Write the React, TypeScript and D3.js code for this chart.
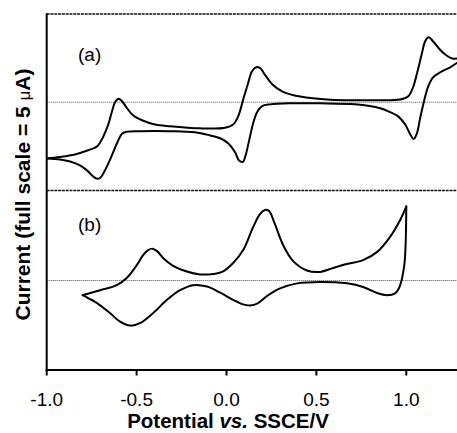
import React from "react";
import * as d3 from "d3";

// Panel (a): forward sweep (upper branch), E in V, i in µA
const aForwardE = [-1.0, -0.926, -0.843, -0.77, -0.72, -0.687, -0.659, -0.637, -0.62, -0.6, -0.581, -0.553, -0.52, -0.47, -0.397, -0.314, -0.147, -0.008, 0.037, 0.065, 0.092, 0.12, 0.142, 0.165, 0.187, 0.215, 0.254, 0.309, 0.41, 0.577, 0.799, 0.966, 1.011, 1.038, 1.061, 1.087, 1.105, 1.124, 1.15, 1.189, 1.228, 1.256, 1.289];
const aForwardI = [-1.59, -1.55, -1.48, -1.36, -1.25, -0.99, -0.65, -0.26, 0.0, 0.1, 0.03, -0.17, -0.37, -0.51, -0.63, -0.68, -0.74, -0.72, -0.63, -0.4, 0.06, 0.54, 0.88, 0.99, 0.97, 0.77, 0.51, 0.31, 0.16, 0.07, 0.06, 0.08, 0.17, 0.43, 0.85, 1.39, 1.73, 1.84, 1.72, 1.48, 1.31, 1.24, 1.24];
// Panel (a): reverse sweep (lower branch)
const aReverseE = [1.289, 1.244, 1.189, 1.15, 1.122, 1.1, 1.077, 1.059, 1.041, 1.022, 0.994, 0.955, 0.91, 0.855, 0.716, 0.521, 0.354, 0.243, 0.198, 0.17, 0.148, 0.126, 0.106, 0.091, 0.07, 0.048, 0.009, -0.035, -0.091, -0.175, -0.314, -0.481, -0.559, -0.581, -0.609, -0.642, -0.676, -0.698, -0.715, -0.737, -0.776, -0.815, -0.87, -0.926, -1.0];
const aReverseI = [1.14, 0.99, 0.85, 0.71, 0.45, 0.06, -0.45, -0.88, -1.04, -0.91, -0.63, -0.4, -0.28, -0.17, -0.06, -0.03, -0.03, -0.06, -0.11, -0.28, -0.6, -1.08, -1.51, -1.69, -1.65, -1.42, -1.16, -1.02, -0.94, -0.85, -0.82, -0.82, -0.84, -0.89, -1.16, -1.56, -1.93, -2.12, -2.17, -2.12, -1.93, -1.79, -1.68, -1.62, -1.59];

// Panel (b): forward sweep
const bForwardE = [-0.8, -0.703, -0.61, -0.555, -0.499, -0.464, -0.436, -0.412, -0.386, -0.353, -0.297, -0.221, -0.147, -0.075, -0.024, 0.037, 0.093, 0.148, 0.187, 0.215, 0.237, 0.265, 0.315, 0.371, 0.447, 0.521, 0.593, 0.669, 0.76, 0.838, 0.91, 0.966, 1.0];
const bForwardI = [-0.41, -0.27, -0.13, 0.07, 0.43, 0.71, 0.85, 0.89, 0.82, 0.63, 0.41, 0.25, 0.17, 0.18, 0.24, 0.49, 0.85, 1.49, 1.86, 1.97, 1.94, 1.63, 0.99, 0.54, 0.28, 0.24, 0.35, 0.46, 0.57, 0.8, 1.22, 1.69, 2.07];
// Panel (b): reverse sweep
const bReverseE = [1.0, 0.997, 0.991, 0.983, 0.974, 0.96, 0.938, 0.894, 0.838, 0.76, 0.671, 0.521, 0.393, 0.298, 0.226, 0.176, 0.131, 0.087, 0.037, -0.035, -0.108, -0.186, -0.258, -0.331, -0.408, -0.481, -0.536, -0.592, -0.648, -0.72, -0.77, -0.8];
const bReverseI = [2.07, 1.13, 0.52, 0.24, 0.01, -0.21, -0.36, -0.41, -0.35, -0.18, -0.08, -0.04, -0.08, -0.22, -0.43, -0.63, -0.7, -0.66, -0.54, -0.34, -0.17, -0.13, -0.27, -0.54, -0.91, -1.19, -1.26, -1.15, -0.91, -0.63, -0.49, -0.41];

const xTicks = [-1.0, -0.5, 0.0, 0.5, 1.0];
const xTickLabels = ["-1.0", "-0.5", "0.0", "0.5", "1.0"];
const panelLabels = ["(a)", "(b)"];

const W = 457;
const H = 433;
const left = 46.7;
const right = 457;
const topA = 14;
const midY = 190.5;
const bottom = 370;

const FONT = "'Liberation Sans', Arial, Helvetica, sans-serif";

export default function App() {
  const x = d3.scaleLinear().domain([-1.0, 1.282]).range([left, right]);
  const yA = d3.scaleLinear().domain([-2.5, 2.5]).range([midY, topA]);
  const yB = d3.scaleLinear().domain([-2.5, 2.5]).range([bottom, midY + 0.5]);

  const mk = (ys: d3.ScaleLinear<number, number>) =>
    d3
      .line<[number, number]>()
      .x((d) => x(d[0]))
      .y((d) => ys(d[1]))
      .curve(d3.curveCatmullRom.alpha(0.5));

  const zip = (a: number[], b: number[]) => a.map((v, i) => [v, b[i]] as [number, number]);

  const lineA = mk(yA);
  const lineB = mk(yB);

  return (
    <svg
      width={W}
      height={H}
      style={{ position: "absolute", left: 0, top: 0, background: "#fff" }}
      fontFamily={FONT}
    >
      <defs>
        <clipPath id="plotclip">
          <rect x={left} y={0} width={right - left} height={bottom} />
        </clipPath>
      </defs>

      {/* top and middle frame lines */}
      <line x1={left} x2={right} y1={topA} y2={topA} stroke="#111" strokeWidth={1.7} strokeDasharray="3,0.8" />
      <line x1={left} x2={right} y1={midY} y2={midY} stroke="#111" strokeWidth={1.7} strokeDasharray="3,0.8" />

      {/* zero lines */}
      <line x1={left} x2={right} y1={yA(0)} y2={yA(0)} stroke="#555" strokeWidth={1} strokeDasharray="1,1" />
      <line x1={left} x2={right} y1={yB(0)} y2={yB(0)} stroke="#555" strokeWidth={1} strokeDasharray="1,1" />

      {/* curves */}
      <g clipPath="url(#plotclip)" fill="none" stroke="#000" strokeWidth={2} strokeLinejoin="round" strokeLinecap="round">
        <path d={lineA(zip(aForwardE, aForwardI)) || ""} />
        <path d={lineA(zip(aReverseE, aReverseI)) || ""} />
        <path d={lineB(zip(bForwardE, bForwardI)) || ""} />
        <path d={lineB(zip(bReverseE, bReverseI)) || ""} />
      </g>

      {/* axes */}
      <line x1={left} x2={left} y1={topA - 0.8} y2={bottom + 1} stroke="#000" strokeWidth={2} />
      <line x1={left - 1} x2={right} y1={bottom} y2={bottom} stroke="#000" strokeWidth={2} />
      {xTicks.map((t, i) => (
        <g key={t}>
          <line x1={x(t)} x2={x(t)} y1={bottom} y2={bottom + 5.5} stroke="#000" strokeWidth={2} />
          <text x={x(t)} y={406} textAnchor="middle" fontSize={19} fill="#000">
            {xTickLabels[i]}
          </text>
        </g>
      ))}

      {/* panel labels */}
      <text x={78} y={61} fontSize={19} fill="#000">{panelLabels[0]}</text>
      <text x={78} y={231} fontSize={19} fill="#000">{panelLabels[1]}</text>

      {/* axis titles */}
      <text x={228} y={428} textAnchor="middle" fontSize={20.5} fontWeight="bold" fill="#000">
        Potential <tspan fontStyle="italic">vs.</tspan> SSCE/V
      </text>
      <text
        transform="translate(30,194.5) rotate(-90)"
        textAnchor="middle"
        fontSize={21}
        fontWeight="bold"
        fill="#000"
      >
        Current (full scale = 5 <tspan fontWeight="normal" fontSize={17}>μ</tspan>A)
      </text>
    </svg>
  );
}
